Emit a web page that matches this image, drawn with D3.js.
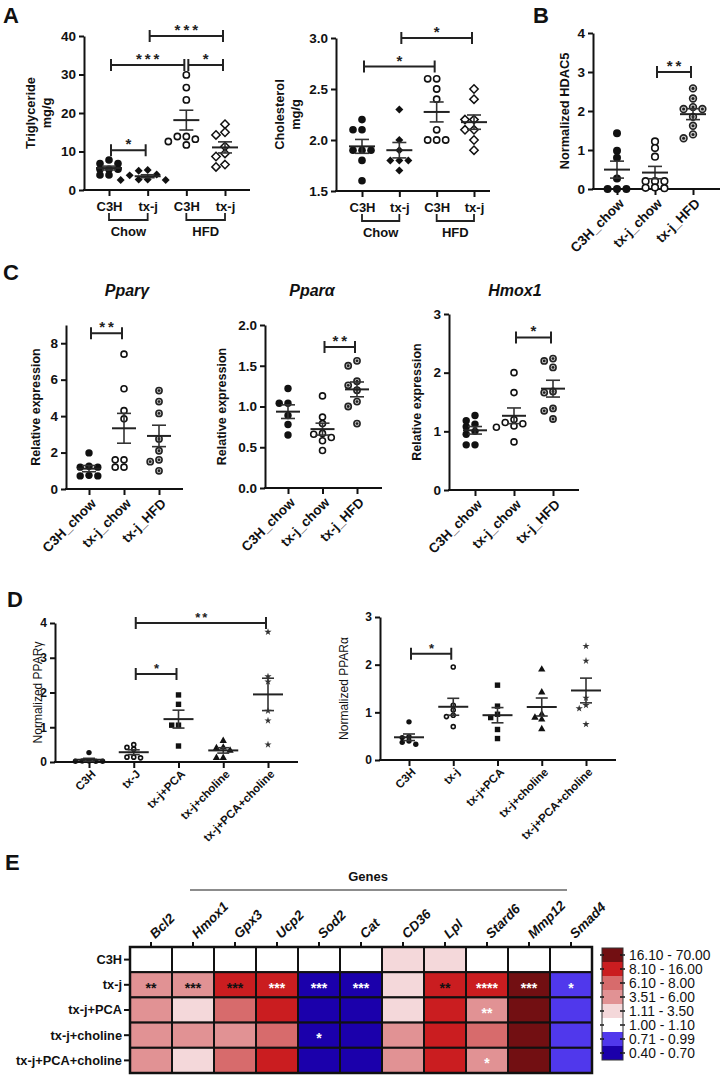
<!DOCTYPE html>
<html><head><meta charset="utf-8">
<script src="https://cdn.jsdelivr.net/npm/d3@7"></script>
<style>body{margin:0;background:#fff}svg{display:block}</style>
</head><body><svg id="c" width="721" height="1076"></svg>
<script>
// ---------------- DATA ----------------
// Panel A
const aCats = ["C3H", "tx-j", "C3H", "tx-j"];
const dietGroups = ["Chow", "HFD"];
const trigTicks = [0, 10, 20, 30, 40];
const trigC3HChow = [7.8, 6.9, 6.9, 5.4, 5.4, 5.4, 3.9, 3.9];
const trigTxjChow = [5.2, 5.0, 4.0, 3.8, 2.7, 2.7, 2.6, 2.6];
const trigC3HHFD = [29.9, 26.6, 23.4, 13.9, 13.9, 13.2, 12.6, 11.7];
const trigTxjHFD = [17.1, 15.0, 14.3, 11.3, 9.5, 8.7, 6.6, 6.0];
const trigSig = [{from:0,to:1,y:10.3,label:"*"},{from:0,to:2,y:32.5,label:"***"},{from:2,to:3,y:32.5,label:"*"},{from:1,to:3,y:40,label:"***"}];
const cholTicks = [1.5, 2.0, 2.5, 3.0];
const cholC3HChow = [2.2, 2.1, 2.1, 1.9, 1.9, 1.9, 1.8, 1.6];
const cholTxjChow = [2.3, 2.0, 1.9, 1.8, 1.8, 1.8, 1.7];
const cholC3HHFD = [2.6, 2.6, 2.5, 2.4, 2.1, 2.0, 2.0, 2.0];
const cholTxjHFD = [2.5, 2.4, 2.2, 2.2, 2.1, 2.1, 2.0, 1.9];
const cholSig = [{from:0,to:2,y:2.72,label:"*"},{from:1,to:3,y:3.0,label:"*"}];
// Panel B
const bcCats = ["C3H_chow", "tx-j_chow", "tx-j_HFD"];
const hdacTicks = [0, 1, 2, 3, 4];
const hdacC3HChow = [1.43, 0.98, 0.8, 0.27, 0, 0, 0];
const hdacTxjChow = [1.22, 1.05, 0.83, 0.2, 0.2, 0.2, 0.04, 0.03, 0.02];
const hdacTxjHFD = [2.58, 2.32, 2.1, 2.05, 2.05, 1.85, 1.62, 1.4, 1.3];
const hdacSig = [{from:1,to:2,y:3.0,label:"**"}];
// Panel C
const cTitles = ["Pparγ", "Pparα", "Hmox1"];
const ppargTicks = [0, 2, 4, 6, 8];
const ppargC3HChow = [1.98, 1.25, 1.2, 1.2, 0.75, 0.72, 0.72];
const ppargTxjChow = [7.4, 5.5, 4.3, 3.85, 1.6, 1.6, 1.2, 1.2];
const ppargTxjHFD = [5.4, 4.8, 4.15, 2.75, 2.1, 1.6, 1.5, 1.0];
const ppargSig = [{from:0,to:1,y:8.55,label:"**"}];
const pparaTicks = [0, 0.5, 1.0, 1.5, 2.0];
const pparaC3HChow = [1.22, 1.04, 1.04, 0.89, 0.78, 0.65];
const pparaTxjChow = [1.13, 0.87, 0.79, 0.67, 0.66, 0.62, 0.58, 0.46];
const pparaTxjHFD = [1.56, 1.5, 1.31, 1.26, 1.2, 1.06, 1.0, 0.79];
const pparaSig = [{from:1,to:2,y:1.73,label:"**"}];
const hmoxTicks = [0, 1, 2, 3];
const hmoxC3HChow = [1.27, 1.18, 1.12, 1.08, 1.0, 0.95, 0.77, 0.77];
const hmoxTxjChow = [2.0, 1.66, 1.2, 1.15, 1.13, 1.09, 1.07, 0.82];
const hmoxTxjHFD = [2.24, 2.2, 2.09, 1.68, 1.66, 1.39, 1.35, 1.21];
const hmoxSig = [{from:1,to:2,y:2.6,label:"*"}];
// Panel D
const dCatsLeft = ["C3H", "tx-J", "tx-j+PCA", "tx-j+choline", "tx-j+PCA+choline"];
const dCatsRight = ["C3H", "tx-j", "tx-j+PCA", "tx-j+choline", "tx-j+PCA+choline"];
const dPpargTicks = [0, 1, 2, 3, 4];
const dPpargC3H = [0.27, 0.03, 0.02, 0.02, 0.03, 0.02];
const dPpargTxj = [0.5, 0.42, 0.37, 0.14, 0.12, 0.14];
const dPpargPCA = [1.93, 1.66, 1.06, 1.06, 0.46];
const dPpargCholine = [0.61, 0.4, 0.42, 0.33, 0.12, 0.12];
const dPpargBoth = [3.74, 2.46, 2.31, 1.47, 1.19, 0.5];
const dPpargSig = [{from:1,to:2,y:2.53,label:"*"},{from:1,to:4,y:4.0,label:"**"}];
const dPparaTicks = [0, 1, 2, 3];
const dPparaC3H = [0.8, 0.49, 0.47, 0.4, 0.37, 0.33];
const dPparaTxj = [1.95, 1.15, 1.05, 0.94, 0.91, 0.7];
const dPparaPCA = [1.57, 1.13, 0.96, 0.89, 0.64, 0.45];
const dPparaCholine = [1.9, 1.42, 0.96, 0.89, 0.85, 0.65];
const dPparaBoth = [2.39, 2.08, 1.3, 1.15, 1.08, 0.75];
const dPparaSig = [{from:0,to:1,y:2.23,label:"*"}];
// Panel E
const eGenes = ["Bcl2","Hmox1","Gpx3","Ucp2","Sod2","Cat","CD36","Lpl","Stard6","Mmp12","Smad4"];
const eGroups = ["C3H","tx-j","tx-j+PCA","tx-j+choline","tx-j+PCA+choline"];
const eC3H      = [1.0, 1.0, 1.0, 1.0, 1.0, 1.0, 2.0, 2.2, 1.0, 1.0, 1.0];
const eTxj      = [4.5, 4.8, 12.0, 11.0, 0.5, 0.55, 2.1, 10.5, 11.5, 25.0, 0.85];
const eTxjPCA   = [4.4, 2.0, 7.0, 12.5, 0.5, 0.55, 2.3, 11.0, 4.6, 30.0, 0.85];
const eTxjChol  = [4.3, 4.6, 4.0, 7.2, 0.5, 0.55, 4.2, 12.0, 7.0, 28.0, 0.85];
const eTxjBoth  = [4.5, 2.1, 7.1, 12.0, 0.5, 0.52, 4.5, 11.5, 4.4, 27.0, 0.85];
const eStarsTxj     = ["**","***","***","***","***","***","","**","****","***","*"];
const eStarsTxjPCA  = ["","","","","","","","","**","",""];
const eStarsTxjChol = ["","","","","*","","","","","",""];
const eStarsTxjBoth = ["","","","","","","","","*","",""];
const eBinEdges = [0.705, 0.995, 1.105, 3.505, 6.05, 8.05, 16.05];
const eLegendLabels = ["16.10 - 70.00","8.10 - 16.00","6.10 - 8.00","3.51 - 6.00","1.11 - 3.50","1.00 - 1.10","0.71 - 0.99","0.40 - 0.70"];

// ---------------- DRAWING ----------------
const FONT = '"Liberation Sans", Arial, sans-serif';
const INK = "#111";
const svg = d3.select("#c").attr("font-family", FONT);

function letter(t, x, y) {
  svg.append("text").attr("x", x).attr("y", y).text(t)
    .attr("font-size", 22).attr("font-weight", "bold").attr("fill", INK);
}

// greedy row-like beeswarm: smallest horizontal offset without heavy overlap
function swarm(vals, y, s) {
  const idx = vals.map((v, i) => i).sort((a, b) => vals[b] - vals[a]);
  const placed = [];
  const off = new Array(vals.length);
  const cands = [0];
  for (let k = 1; k < 20; k++) { cands.push(-k * s / 2, k * s / 2); }
  idx.forEach(i => {
    const py = y(vals[i]);
    for (const c of cands) {
      if (placed.every(p => !(Math.abs(p.y - py) < s * 0.62 && Math.abs(p.x - c) < s * 0.95))) { off[i] = c; placed.push({x: c, y: py}); break; }
    }
  });
  return off;
}

function marker(g, type, cx, cy, r) {
  const dia = rr => `M${cx},${cy - rr}L${cx + rr},${cy}L${cx},${cy + rr}L${cx - rr},${cy}Z`;
  switch (type) {
    case "circle": g.append("circle").attr("cx", cx).attr("cy", cy).attr("r", r).attr("fill", INK); break;
    case "ocircle": g.append("circle").attr("cx", cx).attr("cy", cy).attr("r", r - 0.7).attr("fill", "#fff").attr("stroke", INK).attr("stroke-width", 1.6); break;
    case "diamond": g.append("path").attr("d", dia(r * 1.05)).attr("fill", INK); break;
    case "odiamond": g.append("path").attr("d", dia(r * 1.1)).attr("fill", "#fff").attr("stroke", INK).attr("stroke-width", 1.5); break;
    case "dcircle":
      g.append("circle").attr("cx", cx).attr("cy", cy).attr("r", r - 0.6).attr("fill", "#c9c9c9").attr("stroke", "#222").attr("stroke-width", 1.6);
      g.append("circle").attr("cx", cx).attr("cy", cy).attr("r", r * 0.38).attr("fill", "#222"); break;
    case "square": g.append("rect").attr("x", cx - r).attr("y", cy - r).attr("width", 2 * r).attr("height", 2 * r).attr("fill", INK); break;
    case "triangle": g.append("path").attr("transform", `translate(${cx},${cy})`).attr("d", d3.symbol(d3.symbolTriangle, r * r * 3.2)()).attr("fill", INK); break;
    case "star": g.append("path").attr("transform", `translate(${cx},${cy})`).attr("d", d3.symbol(d3.symbolStar, r * r * 2.2)()).attr("fill", "#333"); break;
  }
}

function scatter(o) {
  const g = svg.append("g");
  const y = d3.scaleLinear().domain(o.domain).range([o.y0, o.yTop]);
  const x = d3.scalePoint().domain(d3.range(o.cats.length)).range(o.cx);
  const ax = g.append("g").attr("transform", `translate(${o.axisX},0)`)
    .call(d3.axisLeft(y).tickValues(o.ticks).tickFormat(o.fmt || d3.format("d")).tickSize(5).tickSizeOuter(0).tickPadding(3));
  ax.select(".domain").attr("stroke", INK).attr("stroke-width", 2);
  ax.selectAll(".tick line").attr("stroke", INK).attr("stroke-width", 2);
  ax.selectAll(".tick text").attr("font-size", o.fs).attr("font-weight", "bold").attr("fill", INK).attr("font-family", FONT);
  g.append("line").attr("x1", o.axisX - 1).attr("x2", o.xEnd).attr("y1", o.y0).attr("y2", o.y0).attr("stroke", INK).attr("stroke-width", 2);
  const xa = g.append("g").attr("transform", `translate(0,${o.y0})`)
    .call(d3.axisBottom(x).tickSize(6).tickSizeOuter(0).tickPadding(6).tickFormat(i => o.cats[i]));
  xa.select(".domain").remove();
  xa.selectAll(".tick line").attr("stroke", INK).attr("stroke-width", 2);
  const tt = xa.selectAll(".tick text").attr("font-size", o.xfs).attr("font-weight", "bold").attr("fill", INK).attr("font-family", FONT);
  if (o.rot) tt.attr("text-anchor", "end").attr("x", 0).attr("y", 0).attr("dy", "0.35em").attr("transform", `translate(4,${o.rotDy || 12}) rotate(-45)`);
  // y label
  const cy = (o.y0 + o.yTop) / 2;
  o.ylabel.forEach((t, i) => {
    g.append("text").attr("transform", `translate(${o.ylabelX[i]},${cy}) rotate(-90)`)
      .attr("text-anchor", "middle").attr("dy", "0.35em").text(t)
      .attr("font-size", o.yfs).attr("font-weight", o.yfw || "bold").attr("fill", INK);
  });
  // points
  const s = o.r * 2 + 1.4;
  o.values.forEach((vals, i) => {
    const off = swarm(vals, y, s);
    vals.forEach((v, k) => marker(g, o.markers[i], x(i) + off[k], y(v), o.r));
  });
  // mean + SEM
  o.values.forEach((vals, i) => {
    const m = d3.mean(vals), se = d3.deviation(vals) / Math.sqrt(vals.length);
    const cx = x(i);
    const ln = (x1, y1, x2, y2, w, c) => g.append("line").attr("x1", x1).attr("y1", y1).attr("x2", x2).attr("y2", y2).attr("stroke", c).attr("stroke-width", w);
    ln(cx, y(m - se), cx, y(m + se), 1.6, "#333");
    ln(cx - o.capHW, y(m - se), cx + o.capHW, y(m - se), 1.6, "#333");
    ln(cx - o.capHW, y(m + se), cx + o.capHW, y(m + se), 1.6, "#333");
    ln(cx - o.meanHW, y(m), cx + o.meanHW, y(m), 2, "#222");
  });
  // significance
  o.sig.forEach(sg => {
    const a = x(sg.from) + 2, b = x(sg.to) - 2, yy = y(sg.y);
    g.append("path").attr("d", `M${a},${yy - 6}V${yy + 6}M${a},${yy}H${b}M${b},${yy - 6}V${yy + 6}`)
      .attr("stroke", "#222").attr("stroke-width", 2).attr("fill", "none");
    g.append("text").attr("x", (a + b) / 2 + 1.5).attr("y", yy - 1).attr("text-anchor", "middle")
      .attr("font-size", o.sfs).attr("font-weight", "bold").attr("letter-spacing", o.sls).attr("fill", "#222").text(sg.label);
  });
  if (o.groups) {
    o.groups.forEach((name, gi) => {
      const a = x(gi * 2), b = x(gi * 2 + 1);
      g.append("path").attr("d", `M${a},${o.y0 + 23}V${o.y0 + 30}H${b}V${o.y0 + 23}`).attr("stroke", "#222").attr("stroke-width", 1.8).attr("fill", "none");
      g.append("text").attr("x", (a + b) / 2).attr("y", o.y0 + 46).attr("text-anchor", "middle")
        .attr("font-size", o.xfs).attr("font-weight", "bold").attr("fill", INK).text(name);
    });
  }
  return {x, y};
}

// Panel A
letter("A", 3, 23);
scatter({axisX:84, xEnd:250, yTop:36, y0:190, domain:[0,40], ticks:trigTicks, cats:aCats, cx:[109,225],
  values:[trigC3HChow, trigTxjChow, trigC3HHFD, trigTxjHFD], markers:["circle","diamond","ocircle","odiamond"],
  r:3.8, fs:13.5, xfs:13, ylabel:["Triglyceride","mg/g"], ylabelX:[31,47], yfs:12.8, meanHW:13, capHW:7,
  sig:trigSig, sfs:15, sls:3, groups:dietGroups});
scatter({axisX:336, xEnd:490, yTop:38, y0:191, domain:[1.5,3.0], ticks:cholTicks, fmt:d3.format(".1f"), cats:aCats, cx:[362,474],
  values:[cholC3HChow, cholTxjChow, cholC3HHFD, cholTxjHFD], markers:["circle","diamond","ocircle","odiamond"],
  r:3.8, fs:13.5, xfs:13, ylabel:["Cholesterol","mg/g"], ylabelX:[280,296], yfs:12.8, meanHW:13, capHW:7,
  sig:cholSig, sfs:15, sls:3, groups:dietGroups});

// Panel B
letter("B", 533, 23);
scatter({axisX:593, xEnd:720, yTop:33, y0:189, domain:[0,4], ticks:hdacTicks, cats:bcCats, cx:[617,693],
  values:[hdacC3HChow, hdacTxjChow, hdacTxjHFD], markers:["circle","ocircle","dcircle"],
  r:4, fs:13.5, xfs:13.5, rot:true, ylabel:["Normalized HDAC5"], ylabelX:[565], yfs:12.8, meanHW:13, capHW:7,
  sig:hdacSig, sfs:15, sls:3});

// Panel C
letter("C", 3, 280);
[[127, cTitles[0]], [312, cTitles[1]], [515, cTitles[2]]].forEach(([cx, t]) =>
  svg.append("text").attr("x", cx).attr("y", 296).attr("text-anchor", "middle").attr("font-size", 16)
    .attr("font-weight", "bold").attr("font-style", "italic").attr("fill", INK).text(t));
scatter({axisX:66, xEnd:183, yTop:325, y0:489, domain:[0,9], ticks:ppargTicks, cats:bcCats, cx:[89,159],
  values:[ppargC3HChow, ppargTxjChow, ppargTxjHFD], markers:["circle","ocircle","dcircle"],
  r:3.7, fs:13.5, xfs:13.5, rot:true, ylabel:["Relative expression"], ylabelX:[36], yfs:12.5, meanHW:12, capHW:7,
  sig:ppargSig, sfs:15, sls:3});
scatter({axisX:265, xEnd:382, yTop:325, y0:488, domain:[0,2], ticks:pparaTicks, fmt:d3.format(".1f"), cats:bcCats, cx:[288,357],
  values:[pparaC3HChow, pparaTxjChow, pparaTxjHFD], markers:["circle","ocircle","dcircle"],
  r:3.7, fs:13.5, xfs:13.5, rot:true, ylabel:["Relative expression"], ylabelX:[222], yfs:12.5, meanHW:12, capHW:7,
  sig:pparaSig, sfs:15, sls:3});
scatter({axisX:449, xEnd:579, yTop:314, y0:490, domain:[0,3], ticks:hmoxTicks, cats:bcCats, cx:[475,553],
  values:[hmoxC3HChow, hmoxTxjChow, hmoxTxjHFD], markers:["circle","ocircle","dcircle"],
  r:3.7, fs:13.5, xfs:13.5, rot:true, ylabel:["Relative expression"], ylabelX:[417], yfs:12.5, meanHW:12, capHW:7,
  sig:hmoxSig, sfs:15, sls:3});

// Panel D
letter("D", 7, 607);
scatter({axisX:55, xEnd:298, yTop:623, y0:762, domain:[0,4], ticks:dPpargTicks, cats:dCatsLeft, cx:[89,268],
  values:[dPpargC3H, dPpargTxj, dPpargPCA, dPpargCholine, dPpargBoth], markers:["circle","ocircle","square","triangle","star"],
  r:2.7, fs:12, xfs:11.5, rot:true, rotDy:10, ylabel:["Normalized PPARγ"], ylabelX:[38], yfs:12, yfw:"normal", meanHW:15, capHW:6,
  sig:dPpargSig, sfs:13, sls:2});
scatter({axisX:380, xEnd:616, yTop:617, y0:760, domain:[0,3], ticks:dPparaTicks, cats:dCatsRight, cx:[409,586],
  values:[dPparaC3H, dPparaTxj, dPparaPCA, dPparaCholine, dPparaBoth], markers:["circle","ocircle","square","triangle","star"],
  r:2.7, fs:12, xfs:11.5, rot:true, rotDy:10, ylabel:["Normalized PPARα"], ylabelX:[344], yfs:12, yfw:"normal", meanHW:15, capHW:6,
  sig:dPparaSig, sfs:13, sls:2});

// Panel E
letter("E", 5, 870);
(function heatmap() {
  const rows = [eC3H, eTxj, eTxjPCA, eTxjChol, eTxjBoth];
  const stars = [eGenes.map(() => ""), eStarsTxj, eStarsTxjPCA, eStarsTxjChol, eStarsTxjBoth];
  const palette = ["#1b00ab", "#5038ec", "#ffffff", "#f4d8da", "#e19294", "#d76b6c", "#ca1d20", "#720f12"];
  const color = d3.scaleThreshold().domain(eBinEdges).range(palette);
  const darkStars = new Set(["tx-j|Bcl2", "tx-j|Hmox1", "tx-j|Gpx3", "tx-j|Lpl"]);
  const x = d3.scaleBand().domain(eGenes).range([130, 592]);
  const y = d3.scaleBand().domain(eGroups).range([947, 1073]);
  const g = svg.append("g");
  svg.append("text").attr("x", 368).attr("y", 881).attr("text-anchor", "middle").attr("font-size", 13).attr("font-weight", "bold").attr("fill", INK).text("Genes");
  svg.append("line").attr("x1", 190).attr("x2", 567).attr("y1", 890).attr("y2", 890).attr("stroke", "#666").attr("stroke-width", 1.3);
  rows.forEach((vals, ri) => {
    vals.forEach((v, ci) => {
      g.append("rect").attr("x", x(eGenes[ci])).attr("y", y(eGroups[ri])).attr("width", x.bandwidth()).attr("height", y.bandwidth())
        .attr("fill", color(v)).attr("stroke", INK).attr("stroke-width", 2);
      const st = stars[ri][ci];
      if (st) g.append("text").attr("x", x(eGenes[ci]) + x.bandwidth() / 2).attr("y", y(eGroups[ri]) + y.bandwidth() / 2 + 8)
        .attr("text-anchor", "middle").attr("font-size", 14).attr("font-weight", "bold")
        .attr("fill", darkStars.has(eGroups[ri] + "|" + eGenes[ci]) ? "#111" : "#fff").text(st);
    });
  });
  g.append("rect").attr("x", 130).attr("y", 947).attr("width", 462).attr("height", 126).attr("fill", "none").attr("stroke", INK).attr("stroke-width", 2.5);
  eGenes.forEach(gn => {
    const cx = x(gn) + x.bandwidth() / 2;
    g.append("line").attr("x1", cx).attr("x2", cx).attr("y1", 942).attr("y2", 947).attr("stroke", INK).attr("stroke-width", 2);
    g.append("text").attr("transform", `translate(${cx + 1},936) rotate(-45)`).attr("dy", "0.35em").attr("font-size", 13.5)
      .attr("font-weight", "bold").attr("font-style", "italic").attr("fill", INK).text(gn);
  });
  eGroups.forEach(gr => {
    const cy = y(gr) + y.bandwidth() / 2;
    g.append("line").attr("x1", 124).attr("x2", 130).attr("y1", cy).attr("y2", cy).attr("stroke", INK).attr("stroke-width", 2);
    g.append("text").attr("x", 122).attr("y", cy).attr("dy", "0.35em").attr("text-anchor", "end").attr("font-size", 12.8)
      .attr("font-weight", "bold").attr("fill", INK).text(gr);
  });
  // legend
  const ly = d3.scaleBand().domain(d3.range(eLegendLabels.length)).range([948, 1060]);
  const rev = palette.slice().reverse();
  eLegendLabels.forEach((lab, i) => {
    g.append("rect").attr("x", 602).attr("y", ly(i)).attr("width", 21).attr("height", ly.bandwidth()).attr("fill", rev[i]);
    const cy = ly(i) + ly.bandwidth() / 2;
    g.append("line").attr("x1", 620).attr("x2", 625).attr("y1", cy).attr("y2", cy).attr("stroke", INK).attr("stroke-width", 1.5);
    g.append("line").attr("x1", 600).attr("x2", 604).attr("y1", cy).attr("y2", cy).attr("stroke", INK).attr("stroke-width", 1.5);
    g.append("text").attr("x", 629).attr("y", cy).attr("dy", "0.35em").attr("font-size", 13.8).attr("fill", INK).text(lab);
  });
  g.append("rect").attr("x", 602).attr("y", 948).attr("width", 21).attr("height", 112).attr("fill", "none").attr("stroke", "#333").attr("stroke-width", 1);
})();
</script></body></html>
